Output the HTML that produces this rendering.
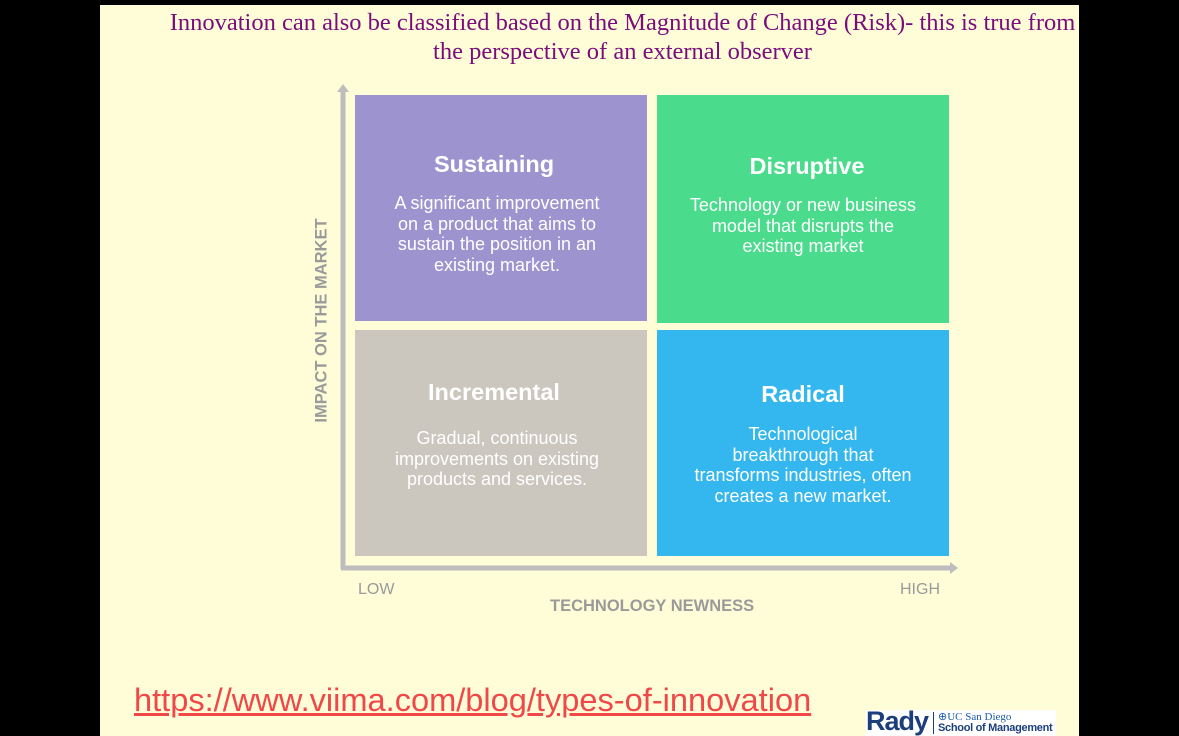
<!DOCTYPE html>
<html><head><meta charset="utf-8"><style>
body{margin:0;width:1179px;height:736px;background:#000;position:relative;overflow:hidden;font-family:"Liberation Sans",sans-serif}
.slide{position:absolute;left:100px;top:5px;width:979px;height:731px;background:#fefdd8}
.t{position:absolute;font-family:"Liberation Serif",serif;color:#7b0c7b;font-size:24.5px;line-height:29px;text-align:center;white-space:nowrap}
.q{position:absolute;color:#fff;text-align:center}
.q h2{margin:0;font-size:23.5px;font-weight:bold}
.q p{margin:15px 0 0;font-size:18px;line-height:20.5px}
.lbl{position:absolute;color:#9a9a9a;font-size:16px}
</style></head><body>
<div class="slide"></div>
<div class="t" style="left:160px;top:8px;width:925px">Innovation can also be classified based on the Magnitude of Change (Risk)- this is true from<br>the perspective of an external observer</div>
<svg style="position:absolute;left:0;top:0" width="1179" height="736">
<line x1="343" y1="92" x2="343" y2="569" stroke="#bdbdbd" stroke-width="5"/>
<polygon points="337,92 349,92 343,84" fill="#bdbdbd"/>
<line x1="341" y1="568" x2="950" y2="568" stroke="#bdbdbd" stroke-width="5"/>
<polygon points="950,562 950,574 958,568" fill="#bdbdbd"/>
</svg>
<div class="q" style="left:355px;top:95px;width:292px;height:226px;background:#9d93cf"><h2 style="margin-top:56px;margin-right:14px">Sustaining</h2><p style="margin-right:8px">A significant improvement<br>on a product that aims to<br>sustain the position in an<br>existing market.</p></div>
<div class="q" style="left:657px;top:95px;width:292px;height:228px;background:#4bdb8c"><h2 style="margin-top:58px;margin-left:8px">Disruptive</h2><p>Technology or new business<br>model that disrupts the<br>existing market</p></div>
<div class="q" style="left:355px;top:330px;width:292px;height:226px;background:#cbc6be"><h2 style="margin-top:49px;margin-right:14px">Incremental</h2><p style="margin-top:22px;margin-right:8px">Gradual, continuous<br>improvements on existing<br>products and services.</p></div>
<div class="q" style="left:657px;top:330px;width:292px;height:226px;background:#33b7ee"><h2 style="margin-top:51px">Radical</h2><p style="margin-top:16px">Technological<br>breakthrough that<br>transforms industries, often<br>creates a new market.</p></div>
<div class="lbl" style="left:205px;top:311px;width:234px;text-align:center;transform:rotate(-90deg);font-weight:bold;font-size:16.5px">IMPACT ON THE MARKET</div>
<div class="lbl" style="left:358px;top:581px">LOW</div>
<div class="lbl" style="left:900px;top:581px">HIGH</div>
<div class="lbl" style="left:550px;top:597px;font-weight:bold;font-size:16.5px">TECHNOLOGY NEWNESS</div>
<a style="position:absolute;left:134px;top:681px;font-size:32.6px;color:#f04848;text-decoration:underline;white-space:nowrap">https://www.viima.com/blog/types-of-innovation</a>
<div style="position:absolute;left:866px;top:710px;width:190px;height:26px;background:#fff;overflow:hidden">
<span style="position:absolute;left:0;top:-4px;font-size:27px;font-weight:bold;color:#1c3f7c;letter-spacing:-1px">Rady</span>
<span style="position:absolute;left:67px;top:2px;width:1px;height:22px;background:#1c3f7c"></span>
<span style="position:absolute;left:72px;top:0;font-size:11px;font-family:'Liberation Serif',serif;color:#1c5ca8;white-space:nowrap">⊕UC San Diego</span>
<span style="position:absolute;left:72px;top:12px;font-size:11px;font-weight:bold;color:#1c3f7c;white-space:nowrap;letter-spacing:-0.3px">School of Management</span>
</div>
</body></html>
